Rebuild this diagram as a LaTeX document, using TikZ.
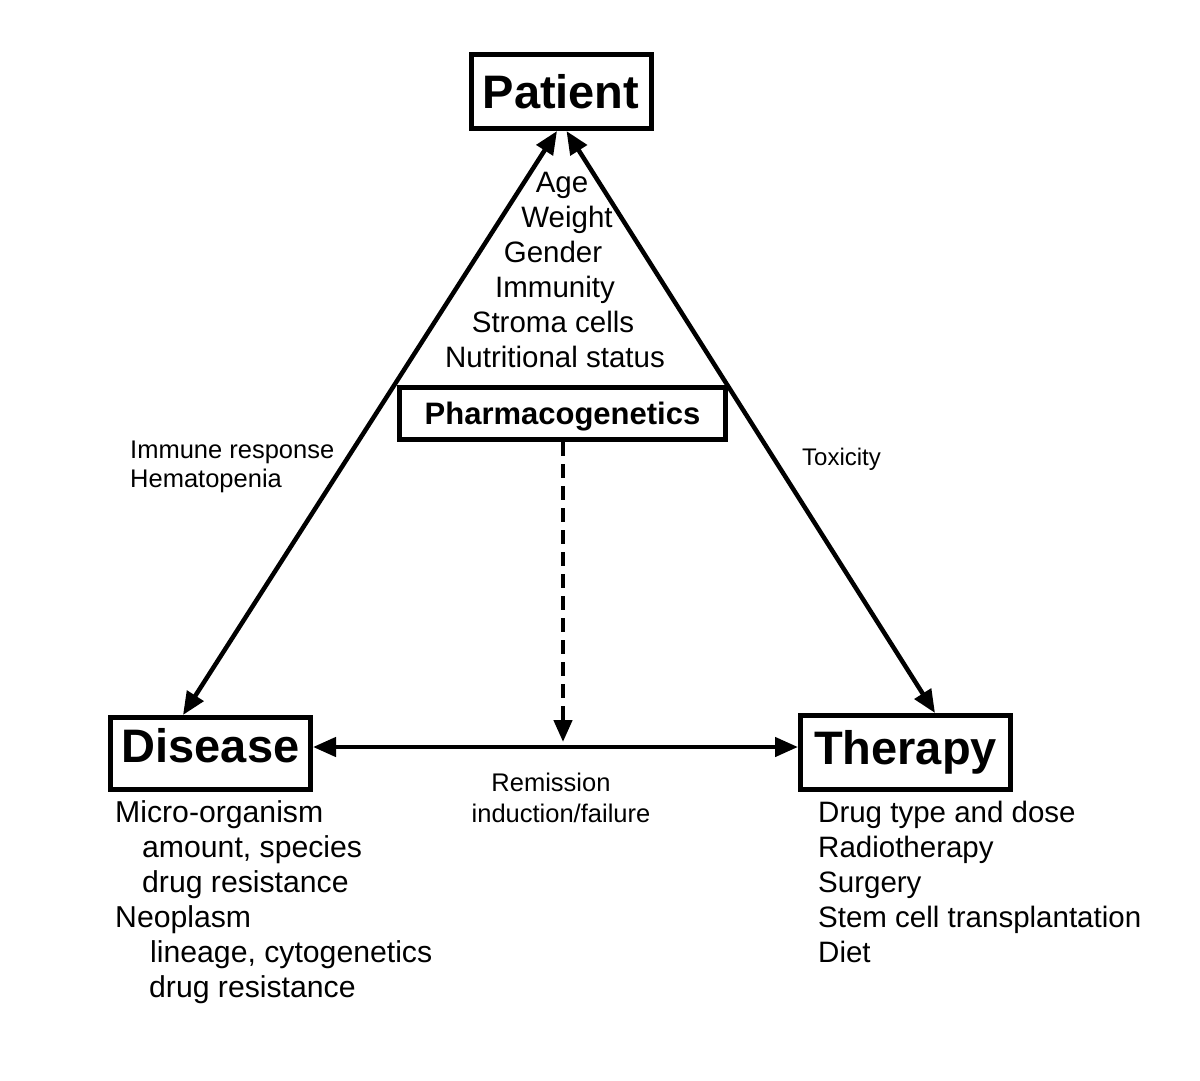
\documentclass[tikz,border=0pt]{standalone}
\usepackage{fontspec}
\setmainfont{Liberation Sans}
\usetikzlibrary{arrows.meta}
\begin{document}
\begin{tikzpicture}[x=1pt,y=-1pt,
  box/.style={draw, line width=5pt, inner sep=0pt, align=center},
  bigtxt/.style={font=\fontsize{47}{50}\selectfont\bfseries},
  txt/.style={inner sep=0pt, anchor=base west, font=\fontsize{29.5}{35}\selectfont},
  dtxt/.style={inner sep=0pt, anchor=base west, font=\fontsize{30.2}{35}\selectfont},
  ctxt/.style={inner sep=0pt, anchor=base, font=\fontsize{29.5}{35}\selectfont},
  small/.style={inner sep=0pt, anchor=base west, font=\fontsize{25.5}{29}\selectfont},
  csmall/.style={inner sep=0pt, anchor=base, font=\fontsize{25.5}{29}\selectfont},
  tipA/.tip={Triangle[length=23pt,width=19pt]},
  link/.style={line width=4.5pt, tipA-tipA},
  dashlink/.style={line width=4.5pt, dash pattern=on 14pt off 8pt, -{Triangle[length=22pt,width=18pt]}},
]
\useasboundingbox[fill=white] (0,0) rectangle (1200,1080);

% boxes
\node[box, bigtxt, minimum width=180pt, minimum height=74pt, text height=33pt, text depth=0pt] (patient) at (561,91.5) {Patient};
\node[box, font=\fontsize{31}{34}\selectfont\bfseries, minimum width=326pt, minimum height=52pt, text height=23pt, text depth=2pt] (pharm) at (562.5,413.5) {Pharmacogenetics};
\node[box, bigtxt, minimum width=200pt, minimum height=72pt, text height=34pt, text depth=17pt] (disease) at (210.5,753.5) {Disease};
\node[box, bigtxt, minimum width=210pt, minimum height=74pt, text height=34pt, text depth=11pt] (therapy) at (905.5,752.5) {Therapy};

% patient factors
\node[ctxt] (age) at (562,192) {Age};
\node[ctxt] (weight) at (567,227) {Weight};
\node[ctxt] (gender) at (553,262) {Gender};
\node[ctxt] (immunity) at (555,297) {Immunity};
\node[ctxt] (stroma) at (553,332) {Stroma cells};
\node[ctxt] (nutri) at (555,367) {Nutritional status};

% edge labels
\node[small] (immresp) at (130,458) {Immune response};
\node[small] (hemato) at (130,487) {Hematopenia};
\node[inner sep=0pt, anchor=base west, font=\fontsize{24}{28}\selectfont] (tox) at (802,465) {Toxicity};
\node[csmall] (remis) at (551,791) {Remission};
\node[csmall] (induct) at (561,822) {induction/failure};

% disease list
\node[dtxt] (d1) at (115,822) {Micro-organism};
\node[dtxt] (d2) at (142,857) {amount, species};
\node[dtxt] (d3) at (142,892) {drug resistance};
\node[dtxt] (d4) at (115,927) {Neoplasm};
\node[dtxt] (d5) at (150,962) {lineage, cytogenetics};
\node[dtxt] (d6) at (149,997) {drug resistance};

% therapy list
\node[txt] (t1) at (818,822) {Drug type and dose};
\node[txt] (t2) at (818,857) {Radiotherapy};
\node[txt] (t3) at (818,892) {Surgery};
\node[txt] (t4) at (818,927) {Stem cell transplantation};
\node[txt] (t5) at (818,962) {Diet};

% connectors
\draw[link] ([xshift=-4pt]patient.south) -- ([xshift=-27.5pt]disease.north);
\draw[link] ([xshift=5.5pt]patient.south) -- ([xshift=29.5pt]therapy.north);
\draw[link] ([yshift=6.5pt]disease.east) -- ([yshift=5.5pt]therapy.west);
\coordinate (hit) at (563,742);
\draw[dashlink] ([xshift=0.5pt]pharm.south) -- (hit);
\end{tikzpicture}
\end{document}
